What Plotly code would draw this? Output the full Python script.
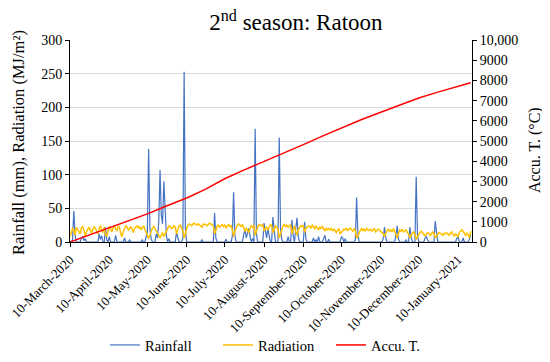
import pandas as pd
import plotly.graph_objects as go

start_date = "2020-03-10"

# Daily rainfall (mm), by month (Mar 10 .. Jan 20)
rain_mar = [0,0,3,46,10,0,0,0,0,6,8,2,5,0,0,0,0,0,0,0,0,0]
rain_apr = [0,12,4,9,0,0,22,3,0,8,0,0,0,0,10,0,0,0,0,0,0,6,0,0,0,3,0,0,0,0]
rain_may = [0,0,0,0,0,3,0,0,8,15,138,20,5,0,0,0,12,6,30,107,40,27,90,35,10,0,5,0,0,0,0]
rain_jun = [0,14,4,0,0,0,5,253,18,0,0,0,0,0,0,0,0,0,0,0,0,3,0,0,0,0,0,0,0,0]
rain_jul = [0,43,6,0,0,0,0,0,0,0,4,0,0,0,0,8,74,10,0,0,0,0,0,0,12,18,6,15,20,8,0]
rain_aug = [5,0,168,12,0,0,0,0,0,28,15,6,20,10,0,0,37,18,0,0,0,155,20,4,0,0,0,0,8,0,0]
rain_sep = [33,10,0,20,36,8,0,0,0,0,30,5,0,0,0,0,0,6,0,3,0,8,0,0,0,5,10,0,0,4]
rain_oct = [0,0,0,0,0,0,0,0,0,8,6,0,5,0,0,0,0,0,0,0,3,66,12,0,0,0,0,0,0,0,0]
rain_nov = [0,0,0,0,0,0,0,0,0,0,0,5,22,6,0,0,0,0,0,0,0,10,24,4,0,0,0,0,0,3]
rain_dec = [0,0,22,8,0,0,0,97,10,0,0,0,0,0,6,8,3,0,0,0,0,0,31,12,0,0,0,0,0,0,0]
rain_jan = [0,0,0,0,0,0,0,0,5,8,0,0,0,6,0,0,0,0,4,10]

# Daily radiation (MJ/m2), by month
rad_mar = [8,14,20,18,10,22,19,16,12,21,23,17,9,15,20,22,18,13,19,23,20,16]
rad_apr = [12,20,24,18,14,22,10,9,18,23,20,15,21,24,19,17,23,22,12,8,16,21,24,22,18,20,23,19,14,21]
rad_may = [22,24,20,23,18,21,24,19,14,8,5,10,16,21,23,20,15,12,9,6,10,14,8,12,18,22,24,23,20,21,24]
rad_jun = [22,12,18,24,25,21,16,6,14,20,25,27,26,24,27,28,26,25,27,26,24,22,26,27,25,24,26,28,27,25]
rad_jul = [24,12,18,23,25,22,24,26,23,25,21,24,26,23,25,18,8,16,22,25,27,24,23,26,20,16,21,18,14,20,24]
rad_aug = [22,25,10,18,22,26,25,24,26,16,20,22,18,21,26,25,14,18,24,22,20,6,12,20,24,26,23,25,22,24,26]
rad_sep = [12,20,24,15,10,18,22,24,23,25,14,20,22,24,23,21,25,22,20,24,21,18,22,20,23,19,16,21,18,20]
rad_oct = [18,20,17,19,16,14,18,20,12,15,16,19,18,20,17,19,21,18,16,20,17,6,8,14,18,20,17,19,16,20,18]
rad_nov = [17,19,16,18,20,15,17,19,18,16,14,12,8,13,17,19,16,18,15,20,17,12,6,14,18,16,19,15,17,18]
rad_dec = [14,12,6,10,13,15,12,4,8,12,14,16,13,11,9,12,14,13,10,12,15,13,6,9,12,14,13,11,10,13,12]
rad_jan = [14,12,10,13,15,11,9,12,10,8,14,17,18,16,12,10,13,11,6,16]

# Accumulated temperature (deg C)
accu_dates = ["2020-03-10","2020-03-25","2020-04-10","2020-04-25","2020-05-10","2020-05-25",
              "2020-06-10","2020-06-25","2020-07-10","2020-07-25","2020-08-10","2020-08-25",
              "2020-09-10","2020-09-25","2020-10-10","2020-10-25","2020-11-10","2020-11-25",
              "2020-12-10","2020-12-25","2021-01-10","2021-01-20"]
accu_values = [0,340,740,1060,1390,1780,2180,2620,3130,3560,3980,4360,
               4820,5240,5640,6040,6420,6790,7130,7420,7700,7880]

tick_dates = ["2020-03-10","2020-04-10","2020-05-10","2020-06-10","2020-07-10","2020-08-10",
              "2020-09-10","2020-10-10","2020-11-10","2020-12-10","2021-01-10"]
tick_labels = ["10-March-2020","10-April-2020","10-May-2020","10-June-2020","10-July-2020",
               "10-August-2020","10-September-2020","10-October-2020","10-November-2020",
               "10-December-2020","10-January-2021"]

right_ticks = [0,1000,2000,3000,4000,5000,6000,7000,8000,9000,10000]
right_labels = ["0","1000","2000","3000","4000","5000","6000","7000","8000","9000","10,000"]

rainfall = rain_mar + rain_apr + rain_may + rain_jun + rain_jul + rain_aug + rain_sep + rain_oct + rain_nov + rain_dec + rain_jan
radiation = rad_mar + rad_apr + rad_may + rad_jun + rad_jul + rad_aug + rad_sep + rad_oct + rad_nov + rad_dec + rad_jan
dates = pd.date_range(start_date, periods=len(rainfall), freq="D")

FONT = "Liberation Serif, DejaVu Serif, serif"

fig = go.Figure()
fig.add_trace(go.Scatter(x=dates, y=rainfall, mode="lines", name="Rainfall",
                         line=dict(color="#4472C4", width=1.2)))
fig.add_trace(go.Scatter(x=dates, y=radiation, mode="lines", name="Radiation",
                         line=dict(color="#FFC000", width=1.5)))
fig.add_trace(go.Scatter(x=pd.to_datetime(accu_dates), y=accu_values, mode="lines", name="Accu. T.",
                         line=dict(color="#FF0000", width=1.5), yaxis="y2"))

# page has an 8px body margin, so the figure is sized/positioned to compensate
fig.update_layout(
    width=542, height=354,
    margin=dict(l=62, r=78, t=32, b=120, autoexpand=False),
    paper_bgcolor="white", plot_bgcolor="white",
    font=dict(family=FONT, color="#000000", size=13),
    title=dict(text="2<sup>nd</sup> season: Ratoon", x=0.562, xref="paper", xanchor="center",
               y=0.982, yref="container", yanchor="top", font=dict(size=23, family=FONT)),
    xaxis=dict(type="date", range=["2020-03-10", "2021-01-21"],
               tickvals=pd.to_datetime(tick_dates), ticktext=tick_labels, tickangle=-45,
               tickfont=dict(size=13, family=FONT),
               showline=True, linecolor="#000000", linewidth=1,
               ticks="outside", ticklen=4, tickcolor="#000000",
               showgrid=False, zeroline=False, automargin=False),
    yaxis=dict(range=[0, 300], dtick=50, showgrid=True, gridcolor="#D9D9D9", gridwidth=1,
               showline=True, linecolor="#000000", linewidth=1,
               ticks="outside", ticklen=4, tickcolor="#000000",
               tickfont=dict(size=14, family=FONT), zeroline=False, automargin=False),
    yaxis2=dict(range=[0, 10000], overlaying="y", side="right",
                tickvals=right_ticks, ticktext=right_labels, showgrid=False,
                showline=True, linecolor="#000000", linewidth=1,
                ticks="outside", ticklen=4, tickcolor="#000000",
                tickfont=dict(size=14, family=FONT), zeroline=False, automargin=False),
    legend=dict(orientation="h", x=0.087, xanchor="left", y=-0.51, yanchor="middle",
                font=dict(size=14.5, family=FONT), itemwidth=30, entrywidth=68,
                bgcolor="rgba(0,0,0,0)"),
    showlegend=True,
    annotations=[
        dict(text="Rainfall (mm), Radiation (MJ/m²)", xref="paper", yref="paper",
             x=(10 - 62) / 402, y=0.49, xanchor="center", yanchor="middle",
             textangle=-90, showarrow=False, font=dict(size=16.5, family=FONT)),
        dict(text="Accu. T. (°C)", xref="paper", yref="paper",
             x=(527 - 62) / 402, y=0.455, xanchor="center", yanchor="middle",
             textangle=-90, showarrow=False, font=dict(size=16, family=FONT)),
    ],
)

fig.write_html("out.html")
